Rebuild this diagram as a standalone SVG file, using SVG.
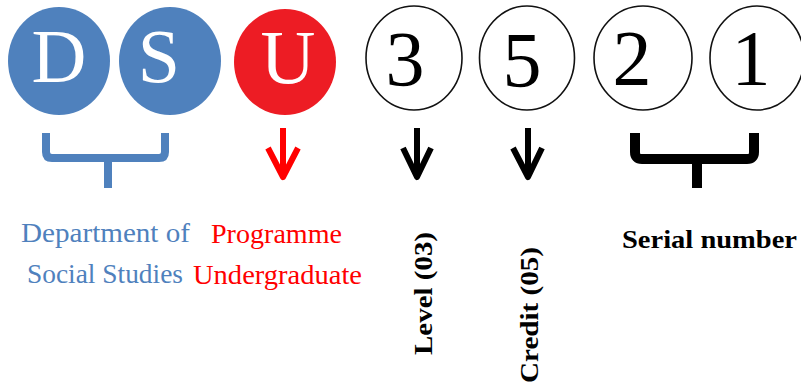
<svg xmlns="http://www.w3.org/2000/svg" width="801" height="383" viewBox="0 0 801 383">
<style>
.bg{fill:#ffffff}
.blue{fill:#4F81BD}
.red{fill:#ED1C24}
.ring{fill:#ffffff;stroke:#111111;stroke-width:1.6}
.big{font-family:"Liberation Serif",serif;text-anchor:middle}
.wl{fill:#ffffff;font-size:76px}
.dg{fill:#000000;font-size:78px}
.lab{font-family:"Liberation Serif",serif;font-size:27px}
.bl{font-family:"Liberation Serif",serif;font-size:25px;font-weight:bold;fill:#000000}
.con{fill:none;stroke-linecap:butt;stroke-linejoin:round}
</style>
<rect class="bg" x="0" y="0" width="801" height="383"/>
<g id="node-D"><ellipse class="blue" cx="59" cy="61" rx="51" ry="54"/><text class="big wl" x="59" y="82">D</text></g>
<g id="node-S"><ellipse class="blue" cx="170" cy="61" rx="51" ry="54"/><text class="big wl" x="159" y="82">S</text></g>
<g id="node-U"><ellipse class="red" cx="285" cy="62" rx="51" ry="53"/><text class="big wl" x="288" y="83">U</text></g>
<g id="node-3"><ellipse class="ring" cx="414" cy="58" rx="48" ry="52"/><text class="big dg" x="405" y="85">3</text></g>
<g id="node-5"><ellipse class="ring" cx="527" cy="58" rx="47.5" ry="52"/><text class="big dg" x="522" y="86">5</text></g>
<g id="node-2"><ellipse class="ring" cx="643" cy="58" rx="49" ry="52"/><text class="big dg" x="632" y="84">2</text></g>
<g id="node-1"><ellipse class="ring" cx="757" cy="58" rx="47" ry="52"/><text class="big dg" x="751" y="84">1</text></g>
<g id="connectors">
<path class="con" d="M46,133 V152 Q46,158 52,158 H159 Q165,158 165,152 V133 M108,158 V188" stroke="#4F81BD" stroke-width="8"/>
<path class="con" d="M283,128 V177 M268,148 L283,177 L298,148" stroke="#FF0000" stroke-width="6"/>
<path class="con" d="M417,128 V177 M403,148 L417,177 L431,148" stroke="#000000" stroke-width="6"/>
<path class="con" d="M528,128 V177 M513,148 L528,177 L542,148" stroke="#000000" stroke-width="6"/>
<path class="con" d="M635,133 V152 Q635,159 642,159 H747 Q754,159 754,152 V133 M697,159 V188" stroke="#000000" stroke-width="10"/>
</g>
<g id="labels">
<text class="lab" fill="#4F81BD" x="21" y="242" textLength="169" lengthAdjust="spacingAndGlyphs">Department of</text>
<text class="lab" fill="#4F81BD" x="27" y="283" textLength="156" lengthAdjust="spacingAndGlyphs">Social Studies</text>
<text class="lab" fill="#FF0000" x="211" y="243" textLength="131" lengthAdjust="spacingAndGlyphs">Programme</text>
<text class="lab" fill="#FF0000" x="193" y="284" textLength="169" lengthAdjust="spacingAndGlyphs">Undergraduate</text>
<text class="bl" transform="translate(432,355) rotate(-90)" textLength="123" lengthAdjust="spacingAndGlyphs">Level (03)</text>
<text class="bl" transform="translate(538,383) rotate(-90)" textLength="136" lengthAdjust="spacingAndGlyphs">Credit (05)</text>
<text class="bl" x="622" y="248" textLength="175" lengthAdjust="spacingAndGlyphs">Serial number</text>
</g>
</svg>
